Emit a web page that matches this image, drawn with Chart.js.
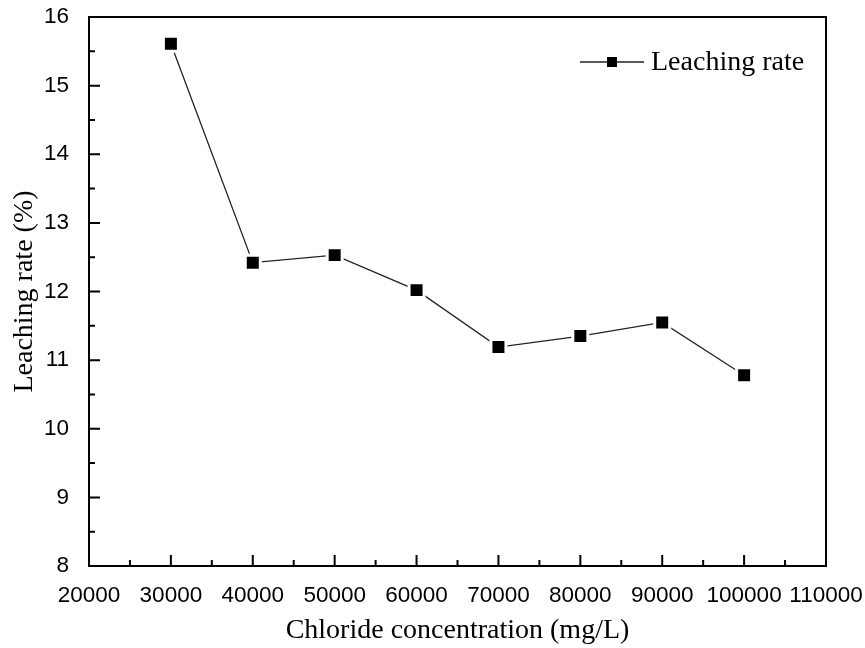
<!DOCTYPE html>
<html>
<head>
<meta charset="utf-8">
<title>Leaching rate</title>
<script src="https://cdn.jsdelivr.net/npm/chart.js@4.4.1/dist/chart.umd.min.js"></script>
<style>
  html, body { margin: 0; padding: 0; background: #fff; }
  #wrap { width: 865px; height: 648px; }
</style>
</head>
<body>
<div id="wrap"><canvas id="leach"></canvas></div>
<script>
// data
const chloride = [30000, 40000, 50000, 60000, 70000, 80000, 90000, 100000];
const leachRate = [15.61, 12.42, 12.53, 12.02, 11.19, 11.35, 11.55, 10.78];
const xTicks = [20000, 30000, 40000, 50000, 60000, 70000, 80000, 90000, 100000, 110000];
const yTicks = [8, 9, 10, 11, 12, 13, 14, 15, 16];
const seriesName = 'Leaching rate';

const tickFont = { family: 'Liberation Sans, Arial, sans-serif', size: 22.5 };
const serifFont = { family: 'Liberation Serif, Times New Roman, serif', size: 28 };

// frame + inward ticks (major and minor)
const framePlugin = {
    id: 'frame',
    afterDraw(chart) {
        const ctx = chart.ctx;
        const a = chart.chartArea;
        const xs = chart.scales.x;
        const ys = chart.scales.y;
        ctx.save();
        ctx.strokeStyle = '#000';
        ctx.lineWidth = 2;
        ctx.strokeRect(a.left, a.top, a.right - a.left, a.bottom - a.top);
        ctx.beginPath();
        for (let i = 0; i < xTicks.length; i++) {
            let px = xs.getPixelForValue(xTicks[i]);
            ctx.moveTo(px, a.bottom);
            ctx.lineTo(px, a.bottom - 11);
            if (i < xTicks.length - 1) {
                let mx = xs.getPixelForValue((xTicks[i] + xTicks[i + 1]) / 2);
                ctx.moveTo(mx, a.bottom);
                ctx.lineTo(mx, a.bottom - 6);
            }
        }
        for (let i = 0; i < yTicks.length; i++) {
            let py = ys.getPixelForValue(yTicks[i]);
            ctx.moveTo(a.left, py);
            ctx.lineTo(a.left + 11, py);
            if (i < yTicks.length - 1) {
                let my = ys.getPixelForValue((yTicks[i] + yTicks[i + 1]) / 2);
                ctx.moveTo(a.left, my);
                ctx.lineTo(a.left + 6, my);
            }
        }
        ctx.stroke();

        // legend: line - square - line, then label
        const lx = a.right - 246;
        const ly = a.top + 45;
        ctx.lineWidth = 1.3;
        ctx.strokeStyle = '#222';
        ctx.beginPath();
        ctx.moveTo(lx, ly);
        ctx.lineTo(lx + 64, ly);
        ctx.stroke();
        ctx.fillStyle = '#000';
        ctx.fillRect(lx + 27, ly - 5, 10, 10);
        ctx.font = serifFont.size + 'px ' + serifFont.family;
        ctx.textBaseline = 'middle';
        ctx.textAlign = 'left';
        ctx.fillText(seriesName, lx + 71, ly + 1);
        ctx.restore();
    }
};

const ctx = document.getElementById('leach').getContext('2d');
const myChart = new Chart(ctx, {
    type: 'line',
    data: {
        datasets: [{
            label: seriesName,
            data: chloride.map((c, i) => ({ x: c, y: leachRate[i] })),
            borderColor: '#222',
            borderWidth: 1.3,
            pointStyle: 'rect',
            pointRadius: 10.6,
            pointHoverRadius: 10.6,
            pointBackgroundColor: '#000',
            pointBorderColor: '#fff',
            pointBorderWidth: 3,
            tension: 0
        }]
    },
    plugins: [framePlugin],
    options: {
        responsive: true,
        maintainAspectRatio: false,
        animation: false,
        events: [],
        layout: { padding: { top: 17, right: 39, left: 0, bottom: 0 } },
        plugins: {
            legend: { display: false },
            tooltip: { enabled: false }
        },
        scales: {
            x: {
                type: 'linear',
                min: 20000,
                max: 110000,
                afterBuildTicks: (s) => { s.ticks = xTicks.map(v => ({ value: v })); },
                afterFit: (s) => {
                    s.height = 82;
                    s.paddingLeft = 0;
                    s.paddingRight = 0;
                },
                grid: { display: false },
                border: { display: false },
                ticks: {
                    color: '#000',
                    font: tickFont,
                    padding: 8,
                    maxRotation: 0,
                    autoSkip: false,
                    callback: (v) => String(v)
                },
                title: {
                    display: true,
                    text: 'Chloride concentration (mg/L)',
                    color: '#000',
                    font: serifFont,
                    padding: { top: 0, bottom: 1 }
                }
            },
            y: {
                type: 'linear',
                min: 8,
                max: 16,
                afterBuildTicks: (s) => { s.ticks = yTicks.map(v => ({ value: v })); },
                afterFit: (s) => {
                    s.width = 89;
                    s.paddingTop = 0;
                    s.paddingBottom = 0;
                },
                grid: { display: false },
                border: { display: false },
                ticks: {
                    color: '#000',
                    font: tickFont,
                    padding: 12,
                    callback: (v) => String(v)
                },
                title: {
                    display: true,
                    text: 'Leaching rate (%)',
                    color: '#000',
                    font: serifFont,
                    padding: { top: 8, bottom: 0 }
                }
            }
        }
    }
});
</script>
</body>
</html>
